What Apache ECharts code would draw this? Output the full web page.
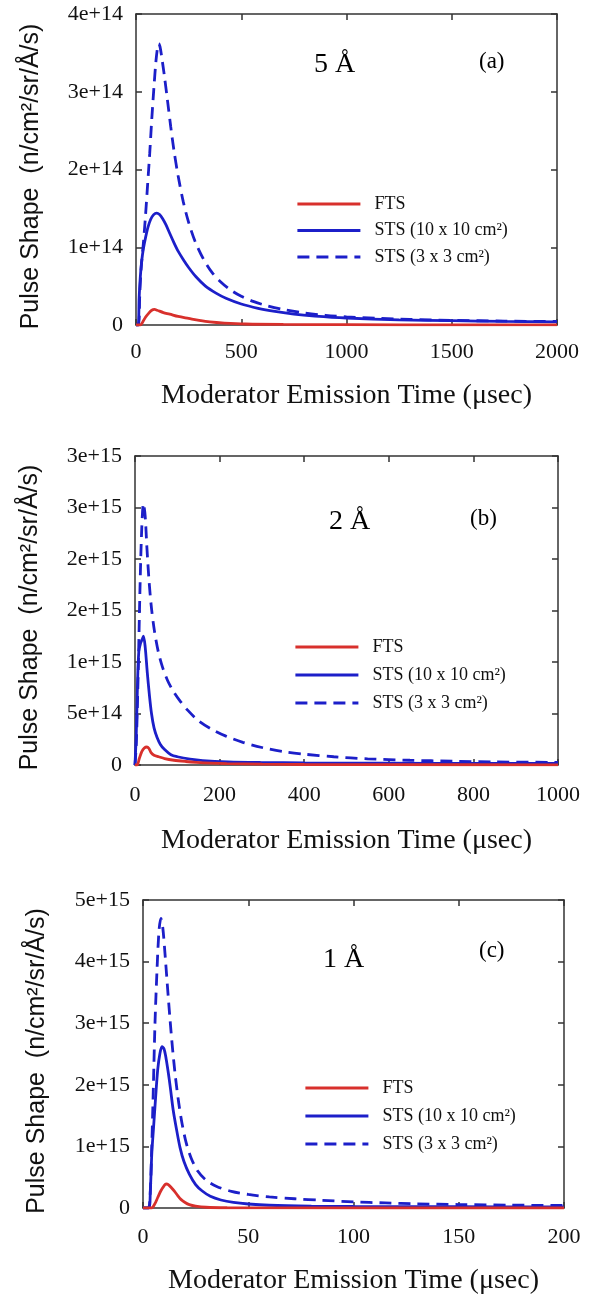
<!DOCTYPE html>
<html>
<head>
<meta charset="utf-8">
<script src="https://cdn.jsdelivr.net/npm/echarts@6/dist/echarts.min.js"></script>
<style>
html, body { margin: 0; padding: 0; background: #fff; }
#chart { width: 592px; height: 1296px; }
</style>
</head>
<body>
<div id="chart"></div>
<script>
// series names
const names = ['FTS', 'STS (10 x 10 cm²)', 'STS (3 x 3 cm²)'];

// (a) 5 A, time in usec, values in units of 1e14
const ftsA = [[0,0],[20,0],[30,0.03],[45,0.1],[60,0.15],[75,0.19],[88,0.2],[100,0.19],[130,0.16],[160,0.14],[200,0.11],[250,0.085],[300,0.06],[350,0.04],[420,0.025],[520,0.013],[700,0.007],[1000,0.004],[1500,0.002],[2000,0.001]];
const sts10A = [[0,0],[10,0],[15,0.35],[20,0.6],[27,0.82],[35,0.98],[45,1.12],[57,1.26],[70,1.36],[84,1.42],[98,1.44],[112,1.42],[126,1.37],[142,1.29],[160,1.18],[180,1.06],[200,0.95],[225,0.84],[250,0.74],[285,0.62],[330,0.5],[380,0.41],[430,0.34],[500,0.27],[580,0.215],[660,0.175],[750,0.14],[850,0.115],[1000,0.09],[1250,0.066],[1500,0.055],[1750,0.046],[2000,0.04]];
const sts3A = [[0,0],[12,0],[18,0.4],[25,0.75],[35,1.05],[45,1.4],[55,1.8],[65,2.2],[75,2.65],[85,3.05],[95,3.4],[103,3.58],[108,3.62],[114,3.58],[122,3.45],[135,3.2],[150,2.88],[165,2.55],[180,2.25],[200,1.92],[225,1.58],[250,1.32],[280,1.08],[320,0.85],[360,0.68],[400,0.56],[450,0.45],[500,0.37],[560,0.3],[620,0.25],[700,0.2],[800,0.155],[900,0.125],[1000,0.105],[1150,0.085],[1300,0.072],[1500,0.06],[1750,0.05],[2000,0.045]];

// (b) 2 A, values in units of 1e15
const ftsB = [[0,0],[5,0],[10,0.06],[16,0.13],[22,0.165],[28,0.175],[33,0.16],[38,0.12],[45,0.095],[56,0.08],[70,0.062],[92,0.046],[120,0.034],[145,0.026],[180,0.018],[217,0.013],[300,0.008],[400,0.005],[600,0.003],[1000,0.002]];
const sts10B = [[0,0],[3,0.3],[6,0.8],[9,1.1],[13,1.18],[17,1.22],[20,1.25],[24,1.15],[29,0.9],[34,0.68],[39,0.5],[45,0.36],[52,0.27],[60,0.2],[70,0.15],[85,0.1],[100,0.08],[130,0.056],[160,0.042],[220,0.03],[300,0.024],[400,0.02],[600,0.017],[800,0.015],[1000,0.015]];
const sts3B = [[0,0],[3,0.2],[7,0.8],[12,1.75],[16,2.3],[20,2.54],[24,2.42],[28,2.12],[33,1.8],[39,1.52],[46,1.3],[55,1.1],[65,0.95],[77,0.82],[90,0.72],[105,0.63],[125,0.53],[150,0.43],[180,0.35],[215,0.28],[255,0.22],[300,0.17],[350,0.13],[400,0.105],[470,0.08],[550,0.06],[650,0.046],[750,0.037],[850,0.03],[1000,0.025]];

// (c) 1 A, values in units of 1e15
const ftsC = [[0,0],[4,0],[5.5,0.06],[7,0.17],[8.5,0.28],[10,0.36],[11,0.39],[12,0.38],[13.5,0.33],[15,0.27],[16.5,0.2],[18,0.14],[20,0.09],[22,0.055],[25,0.03],[30,0.012],[40,0.004],[60,0.001],[200,0]];
const sts10C = [[0,0],[2.7,0],[3.5,0.3],[4.2,0.9],[5,1.3],[6,1.8],[7,2.25],[8,2.5],[9,2.62],[10,2.58],[11,2.42],[12,2.2],[13,1.95],[14.3,1.6],[15.8,1.3],[17.6,0.98],[19.5,0.75],[22,0.55],[25,0.38],[28,0.28],[32,0.19],[37,0.13],[43,0.09],[50,0.065],[60,0.045],[80,0.03],[100,0.024],[150,0.02],[200,0.018]];
const sts3C = [[0,0],[2.5,0],[3.3,0.15],[4,0.8],[4.8,1.8],[5.7,3.0],[6.7,3.9],[7.6,4.5],[8.5,4.7],[9.4,4.55],[10.4,4.15],[11.5,3.65],[12.7,3.12],[14,2.6],[15.5,2.1],[17,1.7],[18.5,1.38],[20.5,1.06],[23,0.8],[26,0.6],[30,0.45],[35,0.35],[42,0.27],[50,0.22],[60,0.18],[72,0.15],[85,0.125],[100,0.1],[115,0.082],[130,0.068],[150,0.056],[175,0.047],[200,0.04]];

// tick labels
const yTicksA = ['0', '1e+14', '2e+14', '3e+14', '4e+14'];
const yTicksB = ['0', '5e+14', '1e+15', '2e+15', '2e+15', '3e+15', '3e+15'];
const yTicksC = ['0', '1e+15', '2e+15', '3e+15', '4e+15', '5e+15'];

const panels = [
  {grid: {left: 136, top: 14, width: 421, height: 311}, xMax: 2000, xInt: 500, yMax: 4, yInt: 1, yTicks: yTicksA,
   data: [ftsA, sts10A, sts3A], wave: '5 Å', tag: '(a)', wavePos: [314, 51], tagPos: [479, 50],
   legendPos: [296, 195], legendGap: 8.5, yNameGap: 92, xNameGap: 57, xLabelMargin: 16},
  {grid: {left: 135, top: 456, width: 423, height: 309}, xMax: 1000, xInt: 200, yMax: 3, yInt: 0.5, yTicks: yTicksB,
   data: [ftsB, sts10B, sts3B], wave: '2 Å', tag: '(b)', wavePos: [329, 508], tagPos: [470, 507],
   legendPos: [294, 638], legendGap: 10, yNameGap: 92, xNameGap: 62, xLabelMargin: 19},
  {grid: {left: 143, top: 900, width: 421, height: 308}, xMax: 200, xInt: 50, yMax: 5, yInt: 1, yTicks: yTicksC,
   data: [ftsC, sts10C, sts3C], wave: '1 Å', tag: '(c)', wavePos: [323, 946], tagPos: [479, 939],
   legendPos: [304, 1079], legendGap: 10, yNameGap: 93, xNameGap: 59, xLabelMargin: 18}
];

const serif = 'Liberation Serif';
const frame = {color: '#333', width: 1.5};
const colors = ['#d8302c', '#1c1fc9', '#1c1fc9'];

let option = {
  backgroundColor: '#fff',
  animation: false,
  title: [], legend: [], grid: [], xAxis: [], yAxis: [], series: []
};

panels.forEach((p, i) => {
  option.grid.push(p.grid);

  let xBase = {
    type: 'value', gridIndex: i, min: 0, max: p.xMax, interval: p.xInt,
    axisLine: {show: true, onZero: false, lineStyle: frame},
    axisTick: {show: true, inside: true, length: 6, lineStyle: frame},
    splitLine: {show: false}
  };
  option.xAxis.push(Object.assign({}, xBase, {
    position: 'bottom',
    name: 'Moderator Emission Time (μsec)', nameLocation: 'middle', nameGap: p.xNameGap,
    nameTextStyle: {fontFamily: serif, fontSize: 28, color: '#111'},
    axisLabel: {fontFamily: serif, fontSize: 22, color: '#111', margin: p.xLabelMargin,
      formatter: v => String(v)}
  }));
  option.xAxis.push(Object.assign({}, xBase, {position: 'top', axisLabel: {show: false}}));

  let yBase = {
    type: 'value', gridIndex: i, min: 0, max: p.yMax, interval: p.yInt,
    axisLine: {show: true, onZero: false, lineStyle: frame},
    axisTick: {show: true, inside: true, length: 6, lineStyle: frame},
    splitLine: {show: false}
  };
  option.yAxis.push(Object.assign({}, yBase, {
    position: 'left',
    name: 'Pulse Shape  (n/cm²/sr/Å/s)', nameLocation: 'middle', nameRotate: 90, nameGap: p.yNameGap,
    nameTextStyle: {fontFamily: 'Liberation Sans', fontSize: 25, color: '#111', padding: [0, 14, 0, 0]},
    axisLabel: {fontFamily: serif, fontSize: 22, color: '#111', margin: 13,
      formatter: v => p.yTicks[Math.round(v / p.yInt)]}
  }));
  option.yAxis.push(Object.assign({}, yBase, {position: 'right', axisLabel: {show: false}}));

  p.data.forEach((d, k) => {
    option.series.push({
      name: names[k], type: 'line', data: d,
      xAxisIndex: 2 * i, yAxisIndex: 2 * i,
      symbol: 'none', smooth: 0.3,
      lineStyle: {color: colors[k], width: 2.8, type: k === 2 ? [12, 7] : 'solid'},
      itemStyle: {color: colors[k]},
      z: 3 - k
    });
  });

  option.title.push({
    text: p.wave, left: p.wavePos[0], top: p.wavePos[1], padding: 0,
    textStyle: {fontFamily: serif, fontSize: 28, fontWeight: 'normal', color: '#000'}
  });
  option.title.push({
    text: p.tag, left: p.tagPos[0], top: p.tagPos[1], padding: 0,
    textStyle: {fontFamily: serif, fontSize: 23, fontWeight: 'normal', color: '#000'}
  });

  option.legend.push({
    data: names, orient: 'vertical', left: p.legendPos[0], top: p.legendPos[1],
    padding: 0, itemWidth: 63, itemHeight: 18, itemGap: p.legendGap,
    selectedMode: false,
    itemStyle: {opacity: 0},
    lineStyle: {width: 2.8},
    textStyle: {fontFamily: serif, fontSize: 18, color: '#111', padding: [0, 0, 0, 9]}
  });
});

const chart = echarts.init(document.getElementById('chart'));
chart.setOption(option);
</script>
</body>
</html>
